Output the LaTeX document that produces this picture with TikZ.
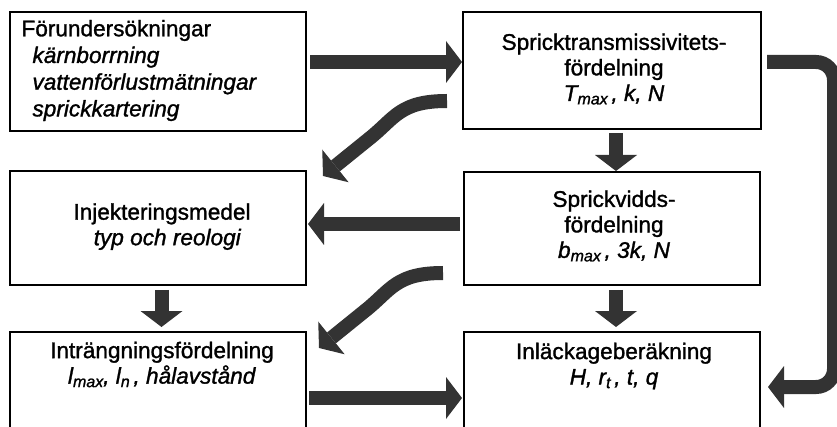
\documentclass[tikz,border=0pt]{standalone}
\usepackage{fontspec}
\setmainfont{Liberation Sans}[FakeBold=1.3]
\usetikzlibrary{arrows.meta}
\definecolor{arrgray}{HTML}{333333}
\newcommand\subx[1]{\raisebox{-3.5pt}{\fontsize{16}{16}\selectfont #1}}
\begin{document}
\begin{tikzpicture}[x=1pt,y=-1pt,
  box/.style={draw=black, line width=1.6pt, inner sep=0pt, outer sep=0pt},
  txt/.style={inner sep=0pt, outer sep=0pt, font=\fontsize{22.6}{25.5}\selectfont, align=center},
  arr/.style={color=arrgray, line width=14pt, -{Triangle[length=16pt,width=42pt,line width=0pt]}}]
\useasboundingbox (0,0) rectangle (837,427);
\clip (0,0) rectangle (837,427);
% boxes
\node[box, minimum width=296pt, minimum height=119pt] (A) at (158,71.5) {};
\node[box, minimum width=298pt, minimum height=117pt] (B) at (612,70.5) {};
\node[box, minimum width=296pt, minimum height=114pt] (C) at (158,228) {};
\node[box, minimum width=296pt, minimum height=113pt] (D) at (612,228.5) {};
\node[box, minimum width=296pt, minimum height=118pt] (E) at (158,391) {};
\node[box, minimum width=296pt, minimum height=118pt] (F) at (612,391) {};
% texts
\node[txt, align=left, anchor=west, font=\fontsize{22.6}{26.7}\selectfont] (tA) at (21.5,70.5)
  {Förundersökningar\\\hspace*{11pt}\textit{kärnborrning}\\\hspace*{11pt}\textit{vattenförlustmätningar}\\\hspace*{11pt}\textit{sprickkartering}};
\node[txt] (tB) at (614,69) {Spricktransmissivitets-\\fördelning\\\textit{T\subx{max}\,, k, N}};
\node[txt] (tC) at (162,226.6) {Injekteringsmedel\\\hspace*{11pt}\textit{typ och reologi}};
\node[txt] (tD) at (614,226) {Sprickvidds-\\fördelning\\\textit{b\subx{max}\,, 3k, N}};
\node[txt] (tE) at (162,364.5) {Inträngningsfördelning\\\textit{l\subx{max}, l\subx{n}\,, hålavstånd}};
\node[txt] (tF) at (614,366) {Inläckageberäkning\\\textit{H, r\subx{t}\,, t, q}};
% straight arrows
\draw[arr, shorten <=4pt, shorten >=1pt] (A.east |- 0,62) -- (B.west |- 0,62);
\draw[arr, shorten <=4pt, shorten >=1pt] (B.south -| 616,0) -- (D.north -| 616,0);
\draw[arr, shorten <=5pt, shorten >=5pt] (D.south -| 616,0) -- (F.north -| 616,0);
\draw[arr, shorten <=5pt, shorten >=5pt] (C.south -| 161.5,0) -- (E.north -| 161.5,0);
\draw[arr, shorten <=4pt, shorten >=2pt] (D.west |- 0,224) -- (C.east |- 0,224);
\draw[arr, shorten <=3pt, shorten >=2pt] (E.east |- 0,398) -- (F.west |- 0,398);
% loop arrow on the right
\draw[arr, rounded corners=18pt, shorten <=6pt, shorten >=8pt] (B.east |- 0,62) -- (834,62) -- (834,387) -- (F.east |- 0,387);
% curved arrows
\coordinate (c1s) at (447,101);
\coordinate (c1e) at (323,176);
\draw[arr] (c1s) .. controls (400,101) and (395,118) .. (370,138) -- (c1e);
\coordinate (c2s) at (443,273);
\coordinate (c2e) at (319,348);
\draw[arr] (c2s) .. controls (396,273) and (391,290) .. (366,310) -- (c2e);
\end{tikzpicture}
\end{document}
